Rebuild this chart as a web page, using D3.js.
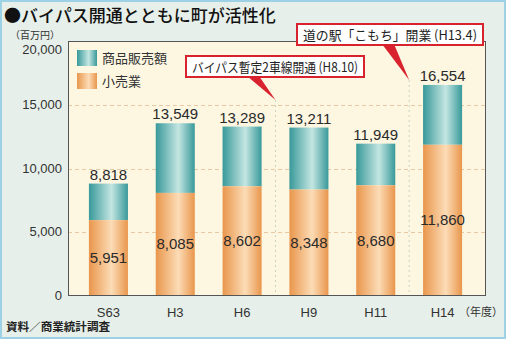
<!DOCTYPE html>
<html><head><meta charset="utf-8">
<script src="https://cdn.jsdelivr.net/npm/d3@7"></script>
<style>
html,body{margin:0;padding:0;background:#fff;}
svg{display:block;}
text{font-family:"Liberation Sans","Noto Sans CJK JP",sans-serif;}
.jp{font-family:"Noto Sans CJK JP","Noto Sans",sans-serif;}
</style></head>
<body>
<script>
const categories = ["S63","H3","H6","H9","H11","H14"];
const totalSales = [8818,13549,13289,13211,11949,16554];   // 商品販売額
const retailSales = [5951,8085,8602,8348,8680,11860];      // 小売業
const yTicks = [0,5000,10000,15000,20000];
const seriesNames = ["商品販売額","小売業"];
const annotations = [
  {text:"バイパス暫定2車線開通 (H8.10)", after:"H6"},
  {text:"道の駅「こもち」開業 (H13.4)", after:"H11"}
];

const W=506,H=339;
const svg=d3.select("body").append("svg").attr("width",W).attr("height",H);
const defs=svg.append("defs");
function grad(id,edge,mid){
  const g=defs.append("linearGradient").attr("id",id).attr("x1","0").attr("x2","1").attr("y1","0").attr("y2","0");
  g.append("stop").attr("offset","0%").attr("stop-color",edge);
  g.append("stop").attr("offset","58%").attr("stop-color",mid);
  g.append("stop").attr("offset","100%").attr("stop-color",edge);
}
grad("gTeal","#38999a","#c4e6e2");
grad("gOrange","#e9964c","#fcdcb6");

// background and frame
svg.append("rect").attr("x",1).attr("y",1).attr("width",W-2).attr("height",H-2)
  .attr("fill","#e6efe9").attr("stroke","#9dd2e6").attr("stroke-width",2);

const pl=68,pr=486,pt=41,pb=296;
const x=d3.scaleBand().domain(categories).range([75,476]).paddingInner(0.416).paddingOuter(0.208);
const y=d3.scaleLinear().domain([0,20000]).range([pb,pt]);

svg.append("rect").attr("x",pl).attr("y",pt).attr("width",pr-pl).attr("height",pb-pt).attr("fill","#fdf7e2");

// gridlines
svg.append("g").selectAll("line").data(yTicks.filter(d=>d>0&&d<20000)).join("line")
  .attr("x1",pl).attr("x2",pr).attr("y1",d=>Math.round(y(d))+0.5).attr("y2",d=>Math.round(y(d))+0.5)
  .attr("stroke","#e9c9a4").attr("stroke-dasharray","4,3").attr("stroke-width",1);

// annotation vertical lines
const annX = a=>{const i=categories.indexOf(a.after);return (x(categories[i])+x.bandwidth()/2 + x(categories[i+1])+x.bandwidth()/2)/2;};
const tipY=[100,80];
annotations.forEach((a,i)=>{
  svg.append("line").attr("x1",annX(a)).attr("x2",annX(a)).attr("y1",tipY[i]).attr("y2",pb)
    .attr("stroke","#c9d4c4").attr("stroke-dasharray","2,3").attr("stroke-width",1);
});

// bars
const gb=svg.append("g");
categories.forEach((c,i)=>{
  gb.append("rect").attr("x",x(c)).attr("width",x.bandwidth())
    .attr("y",y(totalSales[i])).attr("height",y(retailSales[i])-y(totalSales[i])).attr("fill","url(#gTeal)");
  gb.append("rect").attr("x",x(c)).attr("width",x.bandwidth())
    .attr("y",y(retailSales[i])).attr("height",pb-y(retailSales[i])).attr("fill","url(#gOrange)");
});

// plot border
svg.append("rect").attr("x",pl+0.5).attr("y",pt+0.5).attr("width",pr-pl-1).attr("height",pb-pt-1)
  .attr("fill","none").attr("stroke","#555").attr("stroke-width",1);

// value labels
const fmt=d3.format(",");
svg.append("g").selectAll("text").data(categories).join("text")
  .attr("x",c=>x(c)+x.bandwidth()/2).attr("y",(c,i)=>y(totalSales[i])-4)
  .attr("text-anchor","middle").attr("font-size",15).attr("fill","#2a2a2a")
  .text((c,i)=>fmt(totalSales[i]));
svg.append("g").selectAll("text").data(categories).join("text")
  .attr("x",c=>x(c)+x.bandwidth()/2).attr("y",(c,i)=>(y(retailSales[i])+pb)/2+5)
  .attr("text-anchor","middle").attr("font-size",15).attr("fill","#2a2a2a")
  .text((c,i)=>fmt(retailSales[i]));

// y axis labels
svg.append("g").selectAll("text").data(yTicks).join("text")
  .attr("x",62).attr("y",d=>d===20000? y(d)+13 : y(d)+4)
  .attr("text-anchor","end").attr("font-size",13).attr("fill","#333")
  .text(d=>fmt(d));

// x axis labels
svg.append("g").selectAll("text").data(categories).join("text")
  .attr("x",c=>x(c)+x.bandwidth()/2).attr("y",317)
  .attr("text-anchor","middle").attr("font-size",13).attr("fill","#333")
  .text(c=>c);
svg.append("text").attr("class","jp").attr("x",503).attr("y",316).attr("text-anchor","end")
  .attr("font-size",11).attr("fill","#333").text("（年度）");

// units
svg.append("text").attr("class","jp").attr("x",10).attr("y",38.5).attr("font-size",10).attr("fill","#333").text("（百万円）");

// title
svg.append("text").attr("class","jp").attr("x",4).attr("y",21.5).attr("font-size",17).attr("font-weight",500).attr("fill","#111")
  .text("●バイパス開通とともに町が活性化");

// footer
svg.append("text").attr("class","jp").attr("x",6).attr("y",331).attr("font-size",11).attr("font-weight",700).attr("fill","#222")
  .attr("textLength",104).attr("lengthAdjust","spacingAndGlyphs")
  .text("資料／商業統計調査");

// legend
const lg=svg.append("g");
["gTeal","gOrange"].forEach((g,i)=>{
  lg.append("rect").attr("x",77).attr("y",50+i*23).attr("width",20).attr("height",16).attr("fill",`url(#${g})`);
  lg.append("text").attr("class","jp").attr("x",102).attr("y",63+i*23).attr("font-size",13).attr("fill","#333").text(seriesNames[i]);
});

// annotation boxes
const boxes=[{x:186,y:56,w:178,h:21,base:[247,259]},{x:297,y:24,w:186,h:21,base:[382,394]}];
annotations.forEach((a,i)=>{
  const b=boxes[i], tx=annX(a);
  svg.append("path").attr("d",`M${b.base[0]},${b.y+b.h-1}L${tx},${tipY[i]}L${b.base[1]},${b.y+b.h-1}Z`).attr("fill","#d8222e");
  svg.append("rect").attr("x",b.x).attr("y",b.y).attr("width",b.w).attr("height",b.h)
    .attr("fill","#fff").attr("stroke","#d8222e").attr("stroke-width",2);
  svg.append("text").attr("class","jp").attr("x",b.x+6).attr("y",b.y+15.5)
    .attr("font-size",13).attr("fill","#222")
    .attr("textLength",b.w-12).attr("lengthAdjust","spacingAndGlyphs").text(a.text);
});
</script>
</body></html>
